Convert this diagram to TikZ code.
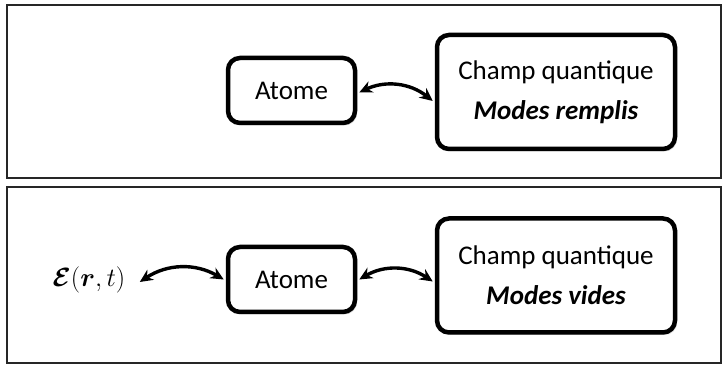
\RequirePackage{fix-cm}
\documentclass[tikz,border=0pt]{standalone}
\usepackage{amsmath,bm,graphicx}
\usepackage{fontspec}
\setmainfont{Carlito}
\usetikzlibrary{arrows.meta, shadows}

\begin{document}
\begin{tikzpicture}[x=1pt, y=1pt,
  >={Stealth[length=13pt, width=12pt]},
  frame/.style={draw=black!85, line width=1.6pt},
  box/.style={draw, line width=4.5pt, rounded corners=12pt, fill=white,
    drop shadow={shadow xshift=2pt, shadow yshift=-2.5pt, opacity=0.25},
    font=\fontsize{27}{40}\selectfont, align=center, inner sep=0pt},
  link/.style={<->, line width=3.4pt, bend left=32}]

  \useasboundingbox (0,0) rectangle (724,366);

  % cadres
  \draw[frame] (7,188) rectangle (721,361);
  \draw[frame] (7,3) rectangle (721,179);

  % modes remplis
  \node[box, minimum width=127pt, minimum height=65pt] (atA) at (291.5,275.5) {Atome};
  \node[box, minimum width=238pt, minimum height=114pt] (chA) at (556,274)
    {Champ quantique\\ \textbf{\textit{Modes remplis}}};
  \draw[link] ([xshift=2pt, yshift=-2pt]atA.east) to ([xshift=-2pt, yshift=-9pt]chA.west);

  % modes vides
  \node (E) at (89,86)
    {\scalebox{1.06}{\fontsize{24.88}{40}\selectfont$\bm{\mathcal{E}}(\bm{r},t)$}};
  \node[box, minimum width=127pt, minimum height=65pt] (atB) at (291.5,86.5) {Atome};
  \node[box, minimum width=238pt, minimum height=114pt] (chB) at (556,90.5)
    {Champ quantique\\ \textbf{\textit{Modes vides}}};
  \draw[link] ([xshift=11pt, yshift=-2pt]E.east) to ([xshift=-2pt]atB.west);
  \draw[link] ([xshift=2pt]atB.east) to ([xshift=-2pt, yshift=-6pt]chB.west);
\end{tikzpicture}
\end{document}
